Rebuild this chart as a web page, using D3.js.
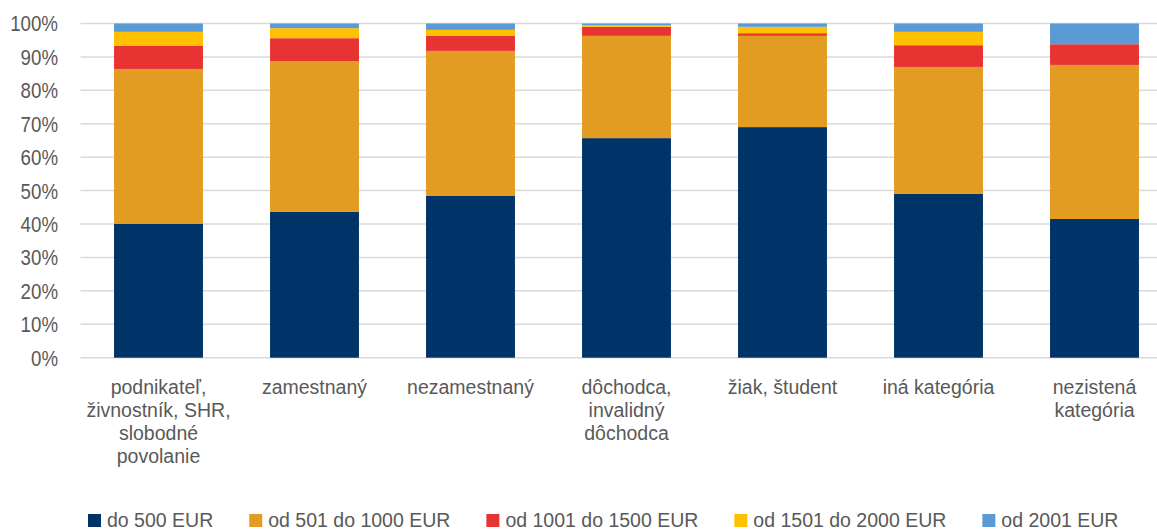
<!DOCTYPE html>
<html>
<head>
<meta charset="utf-8">
<script src="https://cdn.jsdelivr.net/npm/d3@7"></script>
<style>
  html, body { margin: 0; padding: 0; background: #fff; }
  svg { display: block; font-family: "Liberation Sans", Arial, sans-serif; }
</style>
</head>
<body>
<svg id="chart" width="1157" height="531"></svg>
<script>
// ---------- data ----------
const categories = [
  "podnikateľ,\nživnostník, SHR,\nslobodné\npovolanie",
  "zamestnaný",
  "nezamestnaný",
  "dôchodca,\ninvalidný\ndôchodca",
  "žiak, študent",
  "iná kategória",
  "nezistená\nkategória"
];
const seriesNames = ["do 500 EUR", "od 501 do 1000 EUR", "od 1001 do 1500 EUR", "od 1501 do 2000 EUR", "od 2001 EUR"];
const do500 = [40.1, 43.7, 48.4, 65.7, 69.0, 49.0, 41.5];
const od501 = [46.3, 45.0, 43.4, 30.6, 27.3, 38.0, 46.1];
const od1001 = [7.0, 6.9, 4.5, 2.7, 0.8, 6.5, 6.2];
const od1501 = [4.1, 3.0, 1.8, 0.5, 1.9, 4.0, 0.0];
const od2001 = [2.5, 1.4, 1.9, 0.5, 1.0, 2.5, 6.2];
const yTicks = [0, 10, 20, 30, 40, 50, 60, 70, 80, 90, 100];
const colors = ["#003468", "#E29C21", "#E83333", "#FFC000", "#5B9BD5"];

// ---------- layout ----------
const svg = d3.select("#chart");
const plotTop = 23.5, plotBottom = 357.7, plotLeft = 80.5, step = 156;
const allSeries = [do500, od501, od1001, od1501, od2001];

const table = categories.map((c, i) => {
  const row = { cat: c };
  seriesNames.forEach((s, j) => (row[s] = allSeries[j][i]));
  return row;
});
const stacked = d3.stack().keys(seriesNames)(table);

const x = d3.scaleBand()
  .domain(categories)
  .range([plotLeft, plotLeft + step * categories.length])
  .paddingInner(0.43)
  .paddingOuter(0.215);
const y = d3.scaleLinear().domain([0, 100]).range([plotBottom, plotTop]);

// gridlines
svg.append("g")
  .selectAll("line")
  .data(yTicks)
  .join("line")
  .attr("x1", plotLeft)
  .attr("x2", 1157)
  .attr("y1", (d) => y(d))
  .attr("y2", (d) => y(d))
  .attr("stroke", "#d9d9d9")
  .attr("stroke-width", 1.5);

// y labels (narrow looking in the original)
svg.append("g")
  .selectAll("text")
  .data(yTicks)
  .join("text")
  .attr("transform", (d) => `translate(58,${y(d)}) scale(0.85,1)`)
  .attr("dy", "0.36em")
  .attr("text-anchor", "end")
  .attr("fill", "#595959")
  .style("font-size", "22px")
  .text((d) => d + "%");

// bars
svg.append("g")
  .selectAll("g")
  .data(stacked)
  .join("g")
  .attr("fill", (d, i) => colors[i])
  .selectAll("rect")
  .data((d) => d)
  .join("rect")
  .attr("x", (d) => x(d.data.cat))
  .attr("width", x.bandwidth())
  .attr("y", (d) => y(d[1]))
  .attr("height", (d) => y(d[0]) - y(d[1]));

// x labels
const xl = svg.append("g")
  .selectAll("text")
  .data(categories)
  .join("text")
  .attr("x", (d) => x(d) + x.bandwidth() / 2)
  .attr("y", plotBottom + 29)
  .attr("text-anchor", "middle")
  .attr("fill", "#595959")
  .style("font-size", "19.5px");
xl.selectAll("tspan")
  .data((d) => d.split("\n").map((t) => ({ t, c: d })))
  .join("tspan")
  .attr("x", (d) => x(d.c) + x.bandwidth() / 2)
  .attr("dy", (d, i) => (i === 0 ? "0.35em" : "23px"))
  .text((d) => d.t);

// legend
const legend = svg.append("g");
let lx = 88;
seriesNames.forEach((s, i) => {
  legend.append("rect")
    .attr("x", lx)
    .attr("y", 514)
    .attr("width", 13)
    .attr("height", 13)
    .attr("fill", colors[i]);
  const t = legend.append("text")
    .attr("x", lx + 19)
    .attr("y", 520.5)
    .attr("dy", "0.35em")
    .attr("fill", "#595959")
    .style("font-size", "19.5px")
    .text(s);
  lx += 19 + t.node().getComputedTextLength() + 36;
});
</script>
</body>
</html>
